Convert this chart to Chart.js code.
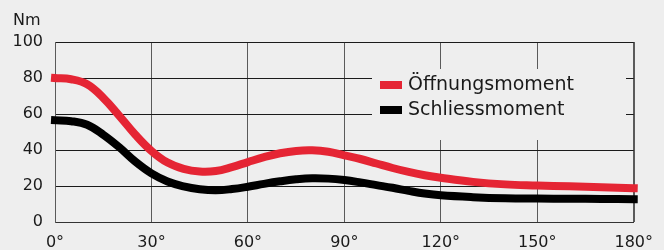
<!DOCTYPE html>
<html>
<head>
<meta charset="utf-8">
<script src="https://cdn.jsdelivr.net/npm/chart.js@4"></script>
<style>
  html, body { margin: 0; padding: 0; background: #eeeeee; }
  #wrap { width: 664px; height: 250px; }
</style>
</head>
<body>
<div id="wrap"><canvas id="torqueChart" width="664" height="250"></canvas></div>
<script>
const angles = [0, 5, 10, 15, 20, 25, 30, 35, 40, 45, 50, 55, 60, 65, 70, 75, 80, 85, 90,
    95, 100, 105, 110, 115, 120, 130, 140, 150, 160, 170, 180];
const oeffnungsmoment = [80, 79.3, 76.5, 69, 59, 48.5, 39.5, 33, 29.5, 28, 28.3, 30.5, 33.3, 36, 38.2, 39.5, 39.8, 39, 37,
    35, 32.5, 30, 27.8, 26, 24.6, 22.3, 20.9, 20.3, 19.8, 19.3, 18.8];
const schliessmoment = [56.5, 56, 54, 48.5, 41.5, 33.5, 27, 22.5, 19.8, 18.2, 17.6, 18.3, 19.6, 21.2, 22.6, 23.7, 24.3, 24.1, 23.3,
    22, 20.5, 19, 17.3, 15.8, 14.8, 13.8, 13.2, 13, 12.9, 12.8, 12.7];
const seriesLabels = ["Öffnungsmoment", "Schliessmoment"];
const seriesColors = ["#e52534", "#000000"];
const xTicks = [0, 30, 60, 90, 120, 150, 180];
const yTicks = [0, 20, 40, 60, 80, 100];
const yUnit = "Nm";

const FONT = "DejaVu Sans";

function toPoints(values) {
    return angles.map((a, i) => ({ x: a, y: values[i] }));
}

// legend box painted over the grid, plus the unit label
const overlayPlugin = {
    id: "overlay",
    beforeDatasetsDraw(chart) {
        const ctx = chart.ctx;
        ctx.save();
        ctx.fillStyle = "#eeeeee";
        ctx.fillRect(372, 69, 254, 71);
        ctx.restore();
    },
    afterDraw(chart) {
        const ctx = chart.ctx;
        ctx.save();
        ctx.font = "16px " + FONT;
        ctx.fillStyle = "#1a1a1a";
        ctx.textBaseline = "middle";
        ctx.textAlign = "left";
        ctx.fillText(yUnit, 13, 21);
        chart.data.datasets.forEach((ds, i) => {
            const y = 85 + i * 25;
            ctx.fillStyle = ds.borderColor;
            ctx.fillRect(380, y - 4, 22, 8);
            ctx.fillStyle = "#1a1a1a";
            ctx.font = "19px " + FONT;
            ctx.fillText(ds.label, 408, y);
        });
        ctx.restore();
    }
};

const ctx = document.getElementById("torqueChart").getContext("2d");
const torqueChart = new Chart(ctx, {
    type: "line",
    data: {
        datasets: [
            {
                label: seriesLabels[0],
                data: toPoints(oeffnungsmoment),
                borderColor: seriesColors[0],
                borderWidth: 8,
                borderCapStyle: "square",
                tension: 0.4,
                pointRadius: 0,
                clip: false,
            },
            {
                label: seriesLabels[1],
                data: toPoints(schliessmoment),
                borderColor: seriesColors[1],
                borderWidth: 8,
                borderCapStyle: "square",
                tension: 0.4,
                pointRadius: 0,
                clip: false,
            }
        ]
    },
    options: {
        responsive: false,
        animation: false,
        layout: {
            padding: { top: 42, right: 30, left: 0, bottom: 0 }
        },
        plugins: {
            legend: { display: false },
            tooltip: { enabled: false }
        },
        scales: {
            x: {
                type: "linear",
                min: 0,
                max: 180,
                afterBuildTicks: (scale) => { scale.ticks = xTicks.map(v => ({ value: v })); },
                afterFit: (scale) => { scale.height = 28; },
                grid: {
                    color: "#5a5a5a",
                    lineWidth: (c) => c.tick && c.tick.value === 180 ? 2 : 1,
                    drawTicks: false
                },
                border: { color: "#333333", width: 1 },
                ticks: {
                    padding: 11,
                    color: "#1a1a1a",
                    maxRotation: 0,
                    font: { family: FONT, size: 16 },
                    callback: (v) => v + "°"
                }
            },
            y: {
                min: 0,
                max: 100,
                afterBuildTicks: (scale) => { scale.ticks = yTicks.map(v => ({ value: v })); },
                afterFit: (scale) => { scale.width = 55; },
                grid: {
                    color: "#1a1a1a",
                    lineWidth: 1,
                    drawTicks: false
                },
                border: { color: "#5a5a5a", width: 1 },
                ticks: {
                    padding: 12,
                    color: "#1a1a1a",
                    font: { family: FONT, size: 16 }
                }
            }
        }
    },
    plugins: [overlayPlugin]
});
</script>
</body>
</html>
